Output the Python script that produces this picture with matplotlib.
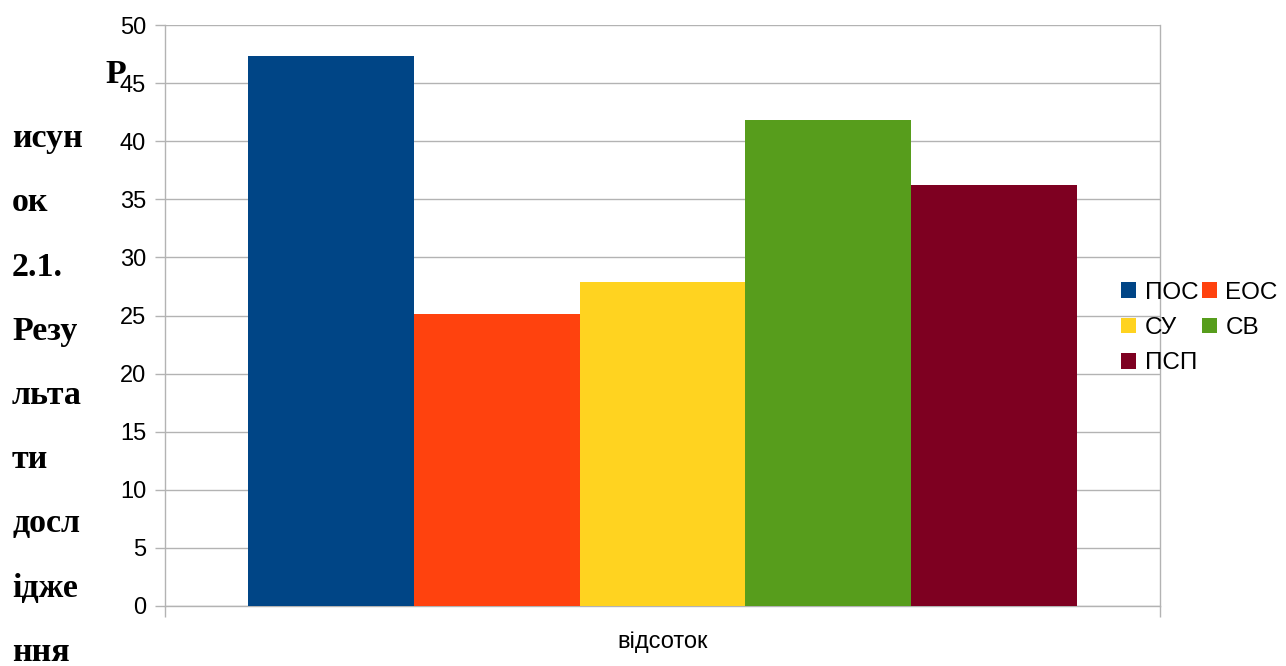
import numpy as np
import matplotlib.pyplot as plt

# data
series = ['ПОС', 'ЕОС', 'СУ', 'СВ', 'ПСП']
values = [47.3, 25.1, 27.9, 41.8, 36.2]
colors = ['#004586', '#ff420e', '#ffd320', '#579d1c', '#7e0021']
category = 'відсоток'
caption_lines = ['Р', 'исун', 'ок', '2.1.', 'Резу', 'льта', 'ти', 'досл', 'ідже', 'ння']

W, H = 1286, 666
fig = plt.figure(figsize=(W / 100, H / 100), dpi=100)
ax = fig.add_axes([165 / W, 1 - 606 / H, 995 / W, 581 / H])

grid_c = '#b3b3b3'
x = np.arange(len(series))
bars = []
for i, (name, v, c) in enumerate(zip(series, values, colors)):
    bars.append(ax.bar(x[i], v, width=1.0, color=c, label=name, zorder=3))

ax.set_xlim(-1, len(series))
ax.set_ylim(0, 50)
ax.set_yticks(np.arange(0, 51, 5))
ax.yaxis.grid(True, color=grid_c, linewidth=1, zorder=0)
ax.set_axisbelow(True)

ax.set_xticks([(len(series) - 1) / 2])
ax.set_xticklabels([category], fontsize=17, fontfamily='Liberation Sans')
ax.tick_params(axis='x', which='major', length=0, pad=18)
ax.set_xticks([-1, len(series)], minor=True)
ax.tick_params(axis='x', which='minor', length=8, color=grid_c, width=1)
ax.tick_params(axis='y', length=7.5, color=grid_c, width=1, pad=6, labelsize=17)
for lab in ax.get_yticklabels():
    lab.set_fontfamily('Liberation Sans')

for s in ['left', 'right', 'bottom']:
    ax.spines[s].set_color(grid_c)
    ax.spines[s].set_linewidth(1)
ax.spines['top'].set_visible(False)

# legend filled row by row, as in the reference
order = [0, 2, 4, 1, 3]
leg = fig.legend([bars[i] for i in order], [series[i] for i in order],
                 loc='center left', bbox_to_anchor=(1121 / W, 1 - 328 / H), ncol=2,
                 frameon=False, prop={'family': 'Liberation Sans', 'size': 17.5},
                 handlelength=0.62, handleheight=0.62, handletextpad=0.35,
                 columnspacing=0.15, labelspacing=0.55, borderpad=0, borderaxespad=0)

# caption wrapped down the left margin
for k, line in enumerate(caption_lines):
    xpos = 105 if k == 0 else 12
    fig.text(xpos / W, 1 - (83 + 64.2 * k) / H, line, fontsize=24.5, fontweight='bold',
             fontfamily='Liberation Serif', va='baseline', ha='left')

fig.savefig('out.png', dpi=100)
